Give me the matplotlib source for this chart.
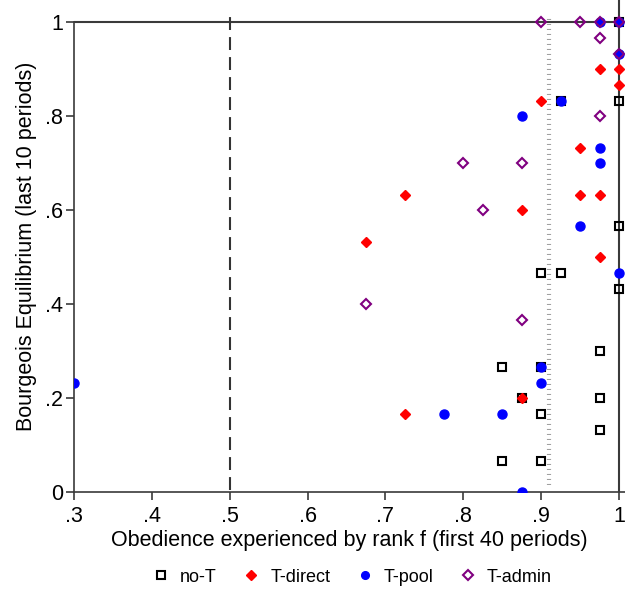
import matplotlib.pyplot as plt

plt.rcParams['font.family'] = ['Liberation Sans', 'DejaVu Sans']

# no-T (hollow black squares)
not_x = [1.0, 1.0, 1.0, 1.0, 0.975, 0.975, 0.975, 0.9, 0.925, 0.925,
         0.85, 0.9, 0.875, 0.9, 0.85, 0.9]
not_y = [1.0, 0.833, 0.567, 0.433, 0.3, 0.2, 0.133, 0.467, 0.467, 0.833,
         0.267, 0.267, 0.2, 0.167, 0.067, 0.067]

# T-direct (filled red diamonds)
direct_x = [0.975, 1.0, 1.0, 0.9, 0.95, 0.95, 0.975, 0.875, 0.975,
            0.725, 0.675, 0.725, 0.875]
direct_y = [0.9, 0.9, 0.867, 0.833, 0.733, 0.633, 0.633, 0.6, 0.5,
            0.633, 0.533, 0.167, 0.2]

# T-pool (filled blue circles)
pool_x = [0.3, 0.775, 0.85, 0.9, 0.9, 0.875, 0.875, 0.95, 0.975, 0.975,
          1.0, 0.925, 0.975, 1.0, 1.0]
pool_y = [0.233, 0.167, 0.167, 0.267, 0.233, 0.0, 0.8, 0.567, 0.733, 0.7,
          0.467, 0.833, 1.0, 1.0, 0.933]

# T-admin (hollow purple diamonds)
admin_x = [0.9, 0.95, 0.975, 1.0, 0.975, 1.0, 0.975, 0.875, 0.8, 0.825,
           0.675, 0.875]
admin_y = [1.0, 1.0, 1.0, 1.0, 0.967, 0.933, 0.8, 0.7, 0.7, 0.6,
           0.4, 0.367]

xticks = [0.3, 0.4, 0.5, 0.6, 0.7, 0.8, 0.9, 1.0]
xlabels = ['.3', '.4', '.5', '.6', '.7', '.8', '.9', '1']
yticks = [0, 0.2, 0.4, 0.6, 0.8, 1.0]
ylabels = ['0', '.2', '.4', '.6', '.8', '1']

fig = plt.figure(figsize=(6.25, 5.95), dpi=100)
ax = fig.add_axes([74 / 625, 103 / 595, 551 / 625, 492 / 595])

line_col = '#3a3a3a'
ax.axhline(1.0, color=line_col, lw=1.5, zorder=1)
ax.axvline(1.0, color=line_col, lw=1.5, zorder=1)
ax.plot([0.5, 0.5], [0.005, 1.025], color='#333333', lw=1.5,
        linestyle=(0, (6.2, 3.4)), zorder=1)
ax.plot([0.91, 0.91], [0.015, 1.013], color='#a0a0a0', lw=3,
        linestyle=(0, (0.25, 0.95)), zorder=1)

ax.plot(not_x, not_y, 's', ms=6, mfc='none', mec='black', mew=1.5,
        label='no-T', zorder=3)
ax.plot(direct_x, direct_y, 'D', ms=5.5, color='#ff0000', label='T-direct', zorder=4)
ax.plot(pool_x, pool_y, 'o', ms=6.5, color='#0000ff', label='T-pool', zorder=5)
ax.plot(admin_x, admin_y, 'D', ms=5.5, mfc='none', mec='#800080', mew=1.5,
        label='T-admin', zorder=6)

ax.set_xlim(0.3, 1.0077)
ax.set_ylim(0, 1.047)
ax.spines['top'].set_visible(False)
ax.spines['right'].set_visible(False)
ax.spines['left'].set_bounds(0, 1)
ax.spines['left'].set_color(line_col)
ax.spines['bottom'].set_color(line_col)
ax.spines['left'].set_linewidth(1.2)
ax.spines['bottom'].set_linewidth(1.2)

ax.set_xticks(xticks)
ax.set_xticklabels(xlabels)
ax.set_yticks(yticks)
ax.set_yticklabels(ylabels)
ax.tick_params(length=6, width=1.2, color=line_col, labelsize=15.5)
ax.tick_params(axis='x', pad=4)
ax.tick_params(axis='y', pad=2)

ax.set_xlabel('Obedience experienced by rank f (first 40 periods)', fontsize=15.5, labelpad=2)
ax.set_ylabel('Bourgeois Equilibrium (last 10 periods)', fontsize=15.5, labelpad=6)

leg = fig.legend(loc='center', bbox_to_anchor=(352 / 625, 1 - 577 / 595), ncol=4,
                 frameon=False, fontsize=13, handlelength=1.0, handletextpad=0.55,
                 columnspacing=1.4, markerscale=0.85)

fig.savefig('out.png', dpi=100)
